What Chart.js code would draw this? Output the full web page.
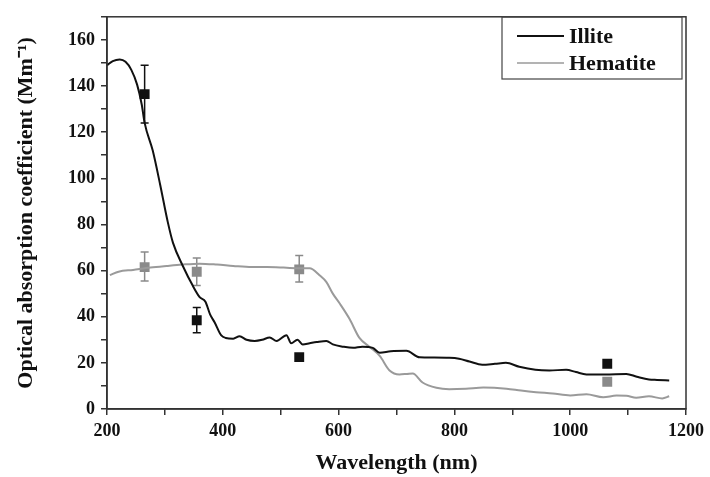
<!DOCTYPE html>
<html>
<head>
<meta charset="utf-8">
<script src="https://cdn.jsdelivr.net/npm/chart.js@4.4.1/dist/chart.umd.min.js"></script>
<style>
  html, body { margin: 0; padding: 0; background: #fff; }
  #wrap { width: 710px; height: 477px; position: relative; }
</style>
</head>
<body>
<div id="wrap"><canvas id="chart"></canvas></div>
<script>
// Absorpcioni spektri (linije)
const illiteX = [200, 210, 222, 232, 242, 252, 260, 265, 279, 292, 305, 314, 331, 348, 360, 370, 378, 386, 397, 405, 418, 429, 441, 455, 468, 481, 493, 510, 518, 529, 538, 550, 562, 579, 590, 608, 625, 641, 659, 671, 690, 717, 740, 762, 791, 808, 826, 848, 870, 889, 912, 940, 964, 993, 1010, 1028, 1060, 1097, 1115, 1136, 1150, 1171];
const illiteY = [149, 150.8, 151.5, 150.5, 147, 140.6, 132, 124, 112, 97, 81, 72, 62, 53.5, 48.5, 46.5, 41, 37.5, 32, 30.8, 30.5, 31.5, 30, 29.5, 30, 31, 29.5, 32, 28.5, 30, 28, 28.5, 29, 29.5, 28, 27, 26.5, 27, 26.5, 24.4, 25, 25.2, 22.4, 22.3, 22.2, 21.8, 20.6, 19.2, 19.6, 20, 18.3, 17, 16.7, 17, 16, 15, 15, 15.2, 14, 12.8, 12.6, 12.4];

const hematiteX = [205, 220, 245, 275, 303, 330, 360, 390, 418, 450, 476, 505, 533, 550, 567, 579, 590, 602, 619, 636, 653, 671, 688, 705, 718, 728, 745, 769, 791, 820, 850, 890, 915, 941, 970, 1000, 1028, 1057, 1080, 1097, 1114, 1136, 1159, 1171];
const hematiteY = [58, 59.5, 60.3, 61.3, 62, 62.6, 63, 62.6, 62, 61.5, 61.5, 61.3, 61, 61, 58, 55, 50, 45.7, 39, 30.8, 27, 23, 16.7, 15, 15.2, 15.4, 11.5, 9.2, 8.6, 8.8, 9.3, 8.8, 8, 7.3, 6.7, 5.9, 6.4, 5.1, 5.8, 5.7, 4.9, 5.5, 4.6, 5.5];

// Merene tačke sa greškama
const measX = [265, 355, 532, 1064];
const illiteMeas = [136.5, 38.5, 22.5, 19.6];
const illiteLow = [124, 33, 21, 19.6];
const illiteHigh = [149, 44, 24, 19.6];
const hematiteMeas = [61.5, 59.5, 60.5, 11.8];
const hematiteLow = [55.5, 53.5, 55, 11.8];
const hematiteHigh = [68, 65.5, 66.5, 11.8];

const xTicks = [200, 400, 600, 800, 1000, 1200];
const yTicks = [0, 20, 40, 60, 80, 100, 120, 140, 160];

const FONT = "'Liberation Serif', 'Times New Roman', serif";
const BLACK = '#111111';
const GRAY_LINE = '#9a9a9a';
const GRAY_MARK = '#8a8a8a';

const pts = (xs, ys) => xs.map((x, i) => ({ x, y: ys[i] }));

const frameAndErrors = {
  id: 'frameAndErrors',
  beforeDatasetsDraw(chart) {
    const { ctx, scales: { x, y } } = chart;
    ctx.save();
    chart.data.datasets.forEach(ds => {
      if (!ds.errLow) return;
      ctx.strokeStyle = ds.backgroundColor;
      ctx.lineWidth = 1.5;
      ds.data.forEach((p, i) => {
        if (ds.errLow[i] === ds.errHigh[i]) return;
        const px = x.getPixelForValue(p.x);
        const lo = y.getPixelForValue(ds.errLow[i]);
        const hi = y.getPixelForValue(ds.errHigh[i]);
        ctx.beginPath();
        ctx.moveTo(px, lo); ctx.lineTo(px, hi);
        ctx.moveTo(px - 4, lo); ctx.lineTo(px + 4, lo);
        ctx.moveTo(px - 4, hi); ctx.lineTo(px + 4, hi);
        ctx.stroke();
      });
    });
    ctx.restore();
  },
  afterDraw(chart) {
    const { ctx, chartArea: a } = chart;
    ctx.save();
    ctx.strokeStyle = '#333';
    ctx.lineWidth = 1.5;
    ctx.strokeRect(a.left, a.top, a.right - a.left, a.bottom - a.top);

    // legenda
    const bx = 502, by = 17, bw = 180, bh = 62;
    ctx.lineWidth = 1.2;
    ctx.strokeStyle = '#444';
    ctx.strokeRect(bx, by, bw, bh);
    const items = [
      { label: 'Illite', color: BLACK, w: 2 },
      { label: 'Hematite', color: GRAY_LINE, w: 1.5 },
    ];
    ctx.font = `bold 22px ${FONT}`;
    ctx.textBaseline = 'middle';
    items.forEach((it, i) => {
      const yy = by + 19 + i * 27;
      ctx.strokeStyle = it.color;
      ctx.lineWidth = it.w;
      ctx.beginPath();
      ctx.moveTo(517, yy); ctx.lineTo(564, yy);
      ctx.stroke();
      ctx.fillStyle = BLACK;
      ctx.fillText(it.label, 569, yy + 1);
    });
    ctx.restore();
  },
};

new Chart(document.getElementById('chart'), {
  type: 'scatter',
  data: {
    datasets: [
      {
        label: 'Illite',
        data: pts(illiteX, illiteY),
        showLine: true,
        borderColor: BLACK,
        borderWidth: 2,
        pointRadius: 0,
        cubicInterpolationMode: 'monotone',
      },
      {
        label: 'Hematite',
        data: pts(hematiteX, hematiteY),
        showLine: true,
        borderColor: GRAY_LINE,
        borderWidth: 2,
        pointRadius: 0,
        cubicInterpolationMode: 'monotone',
      },
      {
        label: 'Illite merenja',
        data: pts(measX, illiteMeas),
        errLow: illiteLow,
        errHigh: illiteHigh,
        pointStyle: 'rect',
        pointRadius: 7,
        backgroundColor: BLACK,
        borderColor: BLACK,
        borderWidth: 0,
      },
      {
        label: 'Hematite merenja',
        data: pts(measX, hematiteMeas),
        errLow: hematiteLow,
        errHigh: hematiteHigh,
        pointStyle: 'rect',
        pointRadius: 7,
        backgroundColor: GRAY_MARK,
        borderColor: GRAY_MARK,
        borderWidth: 0,
      },
    ],
  },
  options: {
    responsive: true,
    maintainAspectRatio: false,
    animation: false,
    layout: { padding: { top: 12, right: 23, left: 0, bottom: 0 } },
    plugins: {
      legend: { display: false },
      tooltip: { enabled: false },
    },
    scales: {
      x: {
        type: 'linear',
        min: 200,
        max: 1200,
        afterFit(scale) { scale.height = 68; },
        ticks: {
          stepSize: 100,
          autoSkip: false,
          maxRotation: 0,
          color: BLACK,
          padding: 6,
          font: { family: FONT, size: 18, weight: 'bold' },
          callback: v => (xTicks.includes(v) ? String(v) : ''),
        },
        grid: { display: true, drawOnChartArea: false, drawTicks: true, tickLength: 6, color: '#333', lineWidth: 1.5 },
        border: { display: true, color: '#333', width: 1.5 },
        title: {
          display: true,
          text: 'Wavelength (nm)',
          color: BLACK,
          padding: { top: 4, bottom: 0 },
          font: { family: FONT, size: 22, weight: 'bold' },
        },
      },
      y: {
        type: 'linear',
        min: 0,
        max: 170,
        afterFit(scale) { scale.width = 107; },
        ticks: {
          stepSize: 10,
          autoSkip: false,
          color: BLACK,
          padding: 6,
          font: { family: FONT, size: 18, weight: 'bold' },
          callback: v => (yTicks.includes(v) ? String(v) : ''),
        },
        grid: { display: true, drawOnChartArea: false, drawTicks: true, tickLength: 6, color: '#333', lineWidth: 1.5 },
        border: { display: true, color: '#333', width: 1.5 },
        title: {
          display: true,
          text: 'Optical absorption coefficient (Mm⁻¹)',
          color: BLACK,
          padding: { top: 13, bottom: 0 },
          font: { family: FONT, size: 22, weight: 'bold' },
        },
      },
    },
  },
  plugins: [frameAndErrors],
});
</script>
</body>
</html>
